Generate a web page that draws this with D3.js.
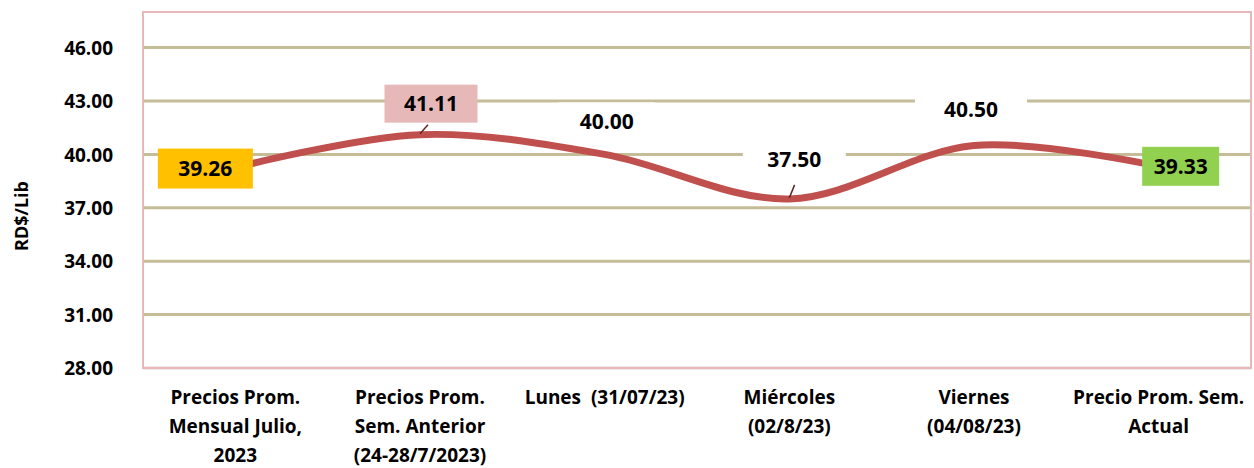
<!DOCTYPE html>
<html>
<head>
<meta charset="utf-8">
<script src="https://cdn.jsdelivr.net/npm/d3@7"></script>
<style>
  body { margin: 0; background: #fff; }
  text { font-family: "Open Sans", Lato, sans-serif; font-weight: bold; fill: #000; white-space: pre; }
</style>
</head>
<body>
<svg id="chart" width="1254" height="468"></svg>
<script>
// data
var categories = [
  ["Precios Prom.", "Mensual Julio,", "2023"],
  ["Precios Prom.", "Sem. Anterior", "(24-28/7/2023)"],
  ["Lunes  (31/07/23)"],
  ["Miércoles", "(02/8/23)"],
  ["Viernes", "(04/08/23)"],
  ["Precio Prom. Sem.", "Actual"]
];
var prices = [39.26, 41.11, 40.00, 37.50, 40.50, 39.33];
var yTicks = [28, 31, 34, 37, 40, 43, 46];
var yTitle = "RD$/Lib";

// label look, one per point
var labelStyle = [
  { dx: -30, dy: 1,   w: 95,  h: 40, fill: "#FFC000", leader: false },
  { dx: 11,  dy: -31, w: 93,  h: 38, fill: "#E6B9B8", leader: true },
  { dx: 2,   dy: -33, w: 96,  h: 38, fill: "#FFFFFF", leader: false },
  { dx: 5,   dy: -39, w: 103, h: 46, fill: "#FFFFFF", leader: true },
  { dx: -3,  dy: -36, w: 112, h: 40, fill: "#FFFFFF", leader: false },
  { dx: 22,  dy: 0,   w: 77,  h: 39, fill: "#92D050", leader: false }
];

var plot = { left: 143, right: 1251, top: 12, bottom: 368 };

var svg = d3.select("#chart");

var x = d3.scaleBand()
  .domain(d3.range(categories.length))
  .range([plot.left, plot.right]);

var y = d3.scaleLinear()
  .domain([28, 48])
  .range([plot.bottom, plot.top]);

function cx(i) { return x(i) + x.bandwidth() / 2; }

// gridlines
svg.append("g").selectAll("line")
  .data(yTicks)
  .join("line")
  .attr("x1", plot.left).attr("x2", plot.right)
  .attr("y1", d => y(d)).attr("y2", d => y(d))
  .attr("stroke", d => d == 28 ? "#E2D6D2" : "#C4BD97")
  .attr("stroke-width", 3);

// plot area border
svg.append("rect")
  .attr("x", plot.left).attr("y", plot.top)
  .attr("width", plot.right - plot.left).attr("height", plot.bottom - plot.top)
  .attr("fill", "none")
  .attr("stroke", "#E6B9B8")
  .attr("stroke-width", 2);

// y axis labels
var yAxis = d3.axisLeft(y).tickValues(yTicks).tickFormat(d3.format(".2f")).tickSize(0).tickPadding(30);
var gy = svg.append("g").attr("transform", "translate(" + plot.left + ",0)").call(yAxis);
gy.select(".domain").remove();
gy.selectAll("text").style("font-size", "19px").style("font-family", null).attr("dy", "0.35em");

svg.append("text")
  .attr("transform", "translate(28," + ((plot.top + plot.bottom) / 2 + 26) + ") rotate(-90)")
  .attr("text-anchor", "middle")
  .style("font-size", "18px")
  .text(yTitle);

// x category labels
svg.append("g").selectAll("text")
  .data(categories)
  .join("text")
  .attr("text-anchor", "middle")
  .style("font-size", "19px")
  .each(function(lines, i) {
    d3.select(this).selectAll("tspan")
      .data(lines)
      .join("tspan")
      .attr("x", cx(i))
      .attr("y", (d, k) => 404 + k * 29)
      .text(d => d);
  });

// smoothed line
var line = d3.line()
  .x((d, i) => cx(i))
  .y(d => y(d))
  .curve(d3.curveCardinal.tension(0));

svg.append("path")
  .datum(prices)
  .attr("d", line)
  .attr("fill", "none")
  .attr("stroke", "#C0504D")
  .attr("stroke-width", 7)
  .attr("stroke-linecap", "butt");

// data labels
var labels = svg.append("g").selectAll("g")
  .data(prices)
  .join("g")
  .attr("transform", (d, i) => "translate(" + (cx(i) + labelStyle[i].dx) + "," + (y(d) + labelStyle[i].dy) + ")");

labels.append("rect")
  .attr("x", (d, i) => -labelStyle[i].w / 2)
  .attr("y", (d, i) => -labelStyle[i].h / 2)
  .attr("width", (d, i) => labelStyle[i].w)
  .attr("height", (d, i) => labelStyle[i].h)
  .attr("fill", (d, i) => labelStyle[i].fill);

labels.append("text")
  .attr("text-anchor", "middle")
  .attr("dy", "0.36em")
  .style("font-size", "21px")
  .text(d => d3.format(".2f")(d));

// leader lines
svg.append("g").selectAll("line")
  .data(prices.map((d, i) => i).filter(i => labelStyle[i].leader))
  .join("line")
  .attr("x1", i => cx(i))
  .attr("y1", i => y(prices[i]) - 1)
  .attr("x2", i => cx(i) + labelStyle[i].dx * 0.45 + 3)
  .attr("y2", i => y(prices[i]) + labelStyle[i].dy + labelStyle[i].h / 2 + 2)
  .attr("stroke", "#632523")
  .attr("stroke-width", 1.5);
</script>
</body>
</html>
